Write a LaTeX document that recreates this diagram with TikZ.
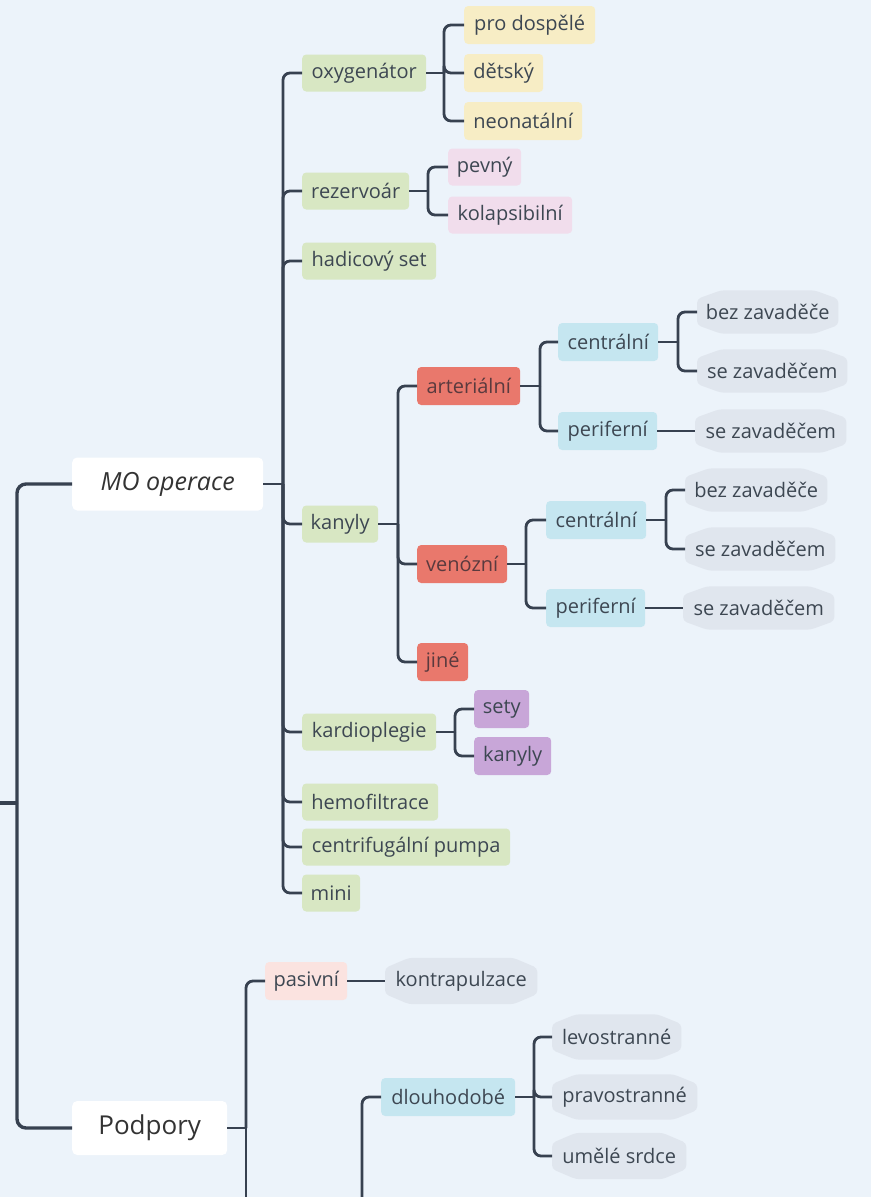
\documentclass[tikz,border=0pt]{standalone}
\usepackage{fontspec}
\setmainfont{Open Sans}
\pgfdeclarelayer{bottom}
\pgfdeclarelayer{background}
\pgfsetlayers{bottom,background,main}
\definecolor{bg}{HTML}{ECF3FA}
\definecolor{ln}{HTML}{374150}
\definecolor{txt}{HTML}{3D4752}
\definecolor{cgreen}{HTML}{D8E7C3}
\definecolor{cyellow}{HTML}{F7EDC5}
\definecolor{cpink}{HTML}{F1DDEC}
\definecolor{cred}{HTML}{E9786C}
\definecolor{cblue}{HTML}{C5E6F0}
\definecolor{cgray}{HTML}{E0E6EE}
\definecolor{cpurple}{HTML}{C8A6D8}
\definecolor{crose}{HTML}{FBE3E0}
\definecolor{redtxt}{HTML}{5A3A3E}
\newcommand\hexbg[1]{%
  \fill[cgray,rounded corners=4pt]
    ([yshift=13pt]#1.west) -- ([xshift=24pt]#1.north west) -- ([xshift=-24pt]#1.north east)
    -- ([yshift=13pt]#1.east) -- ([yshift=-13pt]#1.east) -- ([xshift=-24pt]#1.south east)
    -- ([xshift=24pt]#1.south west) -- ([yshift=-13pt]#1.west) -- cycle;}
\begin{document}
\begin{tikzpicture}[x=1pt,y=-1pt,
  font=\fontsize{20}{24}\selectfont,
  box/.style={rectangle, rounded corners=4pt, minimum height=37pt, inner xsep=7pt, inner ysep=0pt, anchor=west, text=txt},
  gr/.style={box, fill=cgreen},
  ye/.style={box, fill=cyellow},
  pk/.style={box, fill=cpink},
  rd/.style={box, fill=cred, text=redtxt},
  bl/.style={box, fill=cblue},
  pu/.style={box, fill=cpurple},
  ro/.style={box, fill=crose},
  hx/.style={rectangle, minimum height=43pt, inner xsep=7pt, inner ysep=0pt, anchor=west, text=txt},
  rootbox/.style={rectangle, rounded corners=5pt, fill=white, anchor=west, inner sep=0pt, text=black!80},
  conn/.style={draw=ln, line width=2.8pt, rounded corners=7pt},
  rconn/.style={draw=ln, line width=3.4pt, rounded corners=9pt}
]
\begin{pgfonlayer}{bottom}
\fill[bg] (0,0) rectangle (871,1197);
\end{pgfonlayer}
\useasboundingbox (0,0) rectangle (871,1197);

% root level
\node[rootbox, minimum width=191pt, minimum height=53pt, font=\fontsize{25}{30}\selectfont\itshape] (mo) at (72,484) {MO operace};
\node[rootbox, minimum width=155pt, minimum height=54pt, font=\fontsize{26}{30}\selectfont] (pod) at (72,1128) {Podpory};
\coordinate (rin) at (0,803);
\coordinate (rt) at (17,803);
\draw[rconn] (rin) -- (rt);
\draw[rconn] (rt) |- (mo.west);
\draw[rconn] (rt) |- (pod.west);

% MO operace children
\node[gr, minimum width=124pt] (ox) at (302,73) {oxygenátor};
\node[gr, minimum width=107pt] (rez) at (302,191) {rezervoár};
\node[gr, minimum width=134pt] (had) at (302,261) {hadicový set};
\node[gr, minimum width=76pt] (kan) at (302,524) {kanyly};
\node[gr, minimum width=134pt] (kard) at (302,732) {kardioplegie};
\node[gr, minimum width=136pt] (hemo) at (302,802) {hemofiltrace};
\node[gr, minimum width=208pt] (cp) at (302,847) {centrifugální pumpa};
\node[gr, minimum width=58pt] (mini) at (302,893) {mini};
\draw[conn] (mo.east) -- (283,484) coordinate (t0);
\foreach \c in {ox,rez,had,kan,kard,hemo,cp,mini} \draw[conn] (t0) |- (\c.west);

% oxygenator
\node[ye, minimum width=131pt, minimum height=38pt] (pd) at (464,25) {pro dospělé};
\node[ye, minimum width=79pt, minimum height=38pt] (de) at (464,73) {dětský};
\node[ye, minimum width=118pt, minimum height=38pt] (ne) at (464,121) {neonatální};
\draw[conn] (ox.east) -- (444,73) coordinate (t1);
\foreach \c in {pd,de,ne} \draw[conn] (t1) |- (\c.west);

% rezervoar
\node[pk, minimum width=73pt] (pev) at (448,167) {pevný};
\node[pk, minimum width=124pt] (kol) at (448,215) {kolapsibilní};
\draw[conn] (rez.east) -- (428,191) coordinate (t2);
\foreach \c in {pev,kol} \draw[conn] (t2) |- (\c.west);

% kanyly
\node[rd, minimum width=103pt, minimum height=38pt] (art) at (417,386) {arteriální};
\node[rd, minimum width=90pt, minimum height=38pt] (ven) at (417,564) {venózní};
\node[rd, minimum width=51pt, minimum height=38pt] (jin) at (417,662) {jiné};
\draw[conn] (kan.east) -- (398,524) coordinate (t3);
\foreach \c in {art,ven,jin} \draw[conn] (t3) |- (\c.west);

% arterialni
\node[bl, minimum width=100pt, minimum height=38pt] (ac) at (558,342) {centrální};
\node[bl, minimum width=99pt, minimum height=38pt] (ap) at (558,431) {periferní};
\draw[conn] (art.east) -- (540,386) coordinate (t4);
\foreach \c in {ac,ap} \draw[conn] (t4) |- (\c.west);
\node[hx, minimum width=141pt] (ab1) at (697,312) {bez zavaděče};
\node[hx, minimum width=150pt] (as1) at (697,371) {se zavaděčem};
\node[hx, minimum width=151pt] (as2) at (695,431) {se zavaděčem};
\draw[conn] (ac.east) -- (678,342) coordinate (t5);
\foreach \c in {ab1,as1} \draw[conn] (t5) |- (\c.west);
\draw[conn] (ap.east) -- (as2.west);

% venozni
\node[bl, minimum width=100pt, minimum height=38pt] (vc) at (546,520) {centrální};
\node[bl, minimum width=99pt, minimum height=38pt] (vp) at (546,608) {periferní};
\draw[conn] (ven.east) -- (526,564) coordinate (t6);
\foreach \c in {vc,vp} \draw[conn] (t6) |- (\c.west);
\node[hx, minimum width=142pt] (vb1) at (685,490) {bez zavaděče};
\node[hx, minimum width=150pt] (vs1) at (685,549) {se zavaděčem};
\node[hx, minimum width=151pt] (vs2) at (683,608) {se zavaděčem};
\draw[conn] (vc.east) -- (666,520) coordinate (t7);
\foreach \c in {vb1,vs1} \draw[conn] (t7) |- (\c.west);
\draw[conn] (vp.east) -- (vs2.west);

% kardioplegie
\node[pu, minimum width=55pt, minimum height=38pt] (set) at (474,709) {sety};
\node[pu, minimum width=77pt, minimum height=38pt] (kk) at (474,756) {kanyly};
\draw[conn] (kard.east) -- (455,732) coordinate (t8);
\foreach \c in {set,kk} \draw[conn] (t8) |- (\c.west);

% Podpory
\node[ro, minimum width=82pt, minimum height=38pt] (pas) at (265,981) {pasivní};
\node[hx, minimum width=152pt, minimum height=46pt] (kon) at (385,981) {kontrapulzace};
\draw[conn] (pod.east) -- (246,1128) coordinate (t9);
\draw[conn] (t9) |- (pas.west);
\coordinate (b9) at (246,1210);
\draw[conn] (t9) -- (b9);
\draw[conn] (pas.east) -- (kon.west);

\node[bl, minimum width=134pt, minimum height=38pt] (dl) at (381,1097) {dlouhodobé};
\coordinate (b10) at (362,1210);
\draw[conn] (b10) |- (dl.west);
\node[hx, minimum width=129pt, minimum height=45pt] (lev) at (552,1037) {levostranné};
\node[hx, minimum width=145pt, minimum height=45pt] (pra) at (552,1097) {pravostranné};
\node[hx, minimum width=134pt, minimum height=46pt] (ume) at (552,1156) {umělé srdce};
\draw[conn] (dl.east) -- (534,1097) coordinate (t11);
\foreach \c in {lev,pra,ume} \draw[conn] (t11) |- (\c.west);

\begin{pgfonlayer}{background}
\foreach \n in {ab1,as1,as2,vb1,vs1,vs2,kon,lev,pra,ume} {\hexbg{\n}}
\end{pgfonlayer}
\end{tikzpicture}
\end{document}
